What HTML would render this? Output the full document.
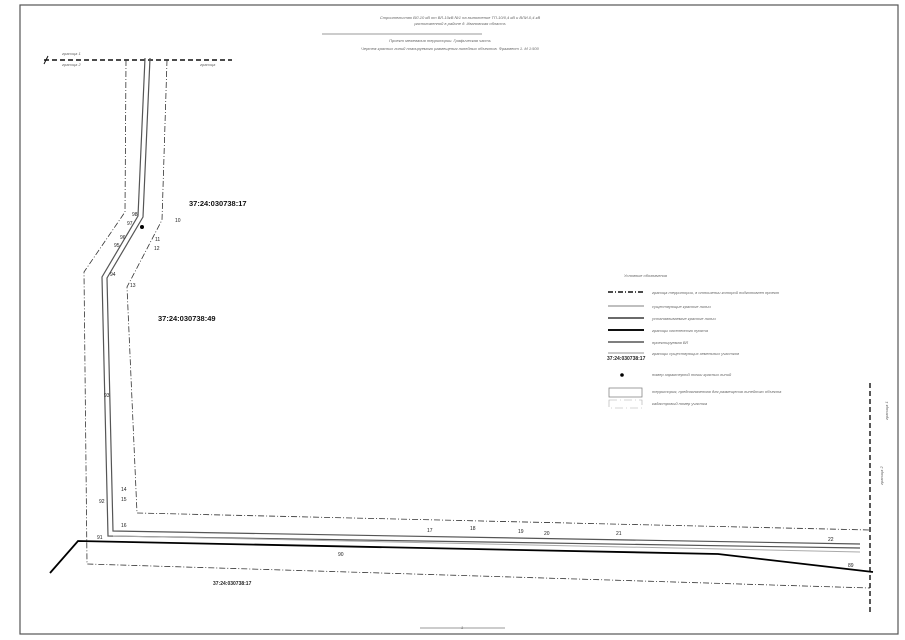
<!DOCTYPE html>
<html><head><meta charset="utf-8"><style>
html,body{margin:0;padding:0;background:#fff;}
svg{display:block;font-family:"Liberation Sans",sans-serif;}
.t{font-size:4px;fill:#666;font-style:italic}
.n{font-size:5px;fill:#222}
.c{font-size:7.5px;font-weight:bold;fill:#111}
</style></head><body>
<svg width="905" height="640" viewBox="0 0 905 640" xmlns="http://www.w3.org/2000/svg">
<rect x="0" y="0" width="905" height="640" fill="#fff"/>
<rect x="20" y="5" width="878" height="629" fill="none" stroke="#555" stroke-width="1.2"/>
<!-- title -->
<text class="t" x="460" y="19" text-anchor="middle">Строительство ВЛ-10 кВ от ВЛ-10кВ №1 на выполнение ТП-10/0,4 кВ и ВЛИ-0,4 кВ</text>
<text class="t" x="460" y="25" text-anchor="middle">расположенной в районе д. Ивановская область</text>
<line x1="322" y1="34" x2="482" y2="34" stroke="#999" stroke-width="1"/>
<text class="t" x="440" y="42" text-anchor="middle">Проект межевания территории. Графическая часть</text>
<text class="t" x="450" y="50" text-anchor="middle">Чертеж красных линий планируемого размещения линейных объектов. Фрагмент 1. М 1:500</text>
<!-- top dashed -->
<line x1="44" y1="60" x2="232" y2="60" stroke="#111" stroke-width="1.6" stroke-dasharray="5,3"/>
<line x1="44" y1="64" x2="48" y2="56" stroke="#111" stroke-width="1"/>
<text class="t" x="62" y="55">граница 1</text>
<text class="t" x="62" y="66">граница 2</text>
<text class="t" x="200" y="66">граница</text>
<!-- pipeline double lines -->
<polyline points="145,58 138,216 102,277 108,536 860,548" fill="none" stroke="#555" stroke-width="1.2"/>
<polyline points="150,58 143,217 107,278 113,531 860,544" fill="none" stroke="#555" stroke-width="1.2"/>
<polyline points="113,536 860,552" fill="none" stroke="#aaa" stroke-width="1"/>
<!-- dash-dot boundaries -->
<polyline points="126,60 125,212 84,272 87,564 870,588" fill="none" stroke="#333" stroke-width="0.8" stroke-dasharray="6,2,1,2"/>
<polyline points="167,60 162,220 127,287 137,513 870,530" fill="none" stroke="#333" stroke-width="0.8" stroke-dasharray="6,2,1,2"/>
<!-- right thick dashed -->
<line x1="870" y1="383" x2="870" y2="612" stroke="#111" stroke-width="1.4" stroke-dasharray="5,3"/>
<text class="t" x="878" y="430" transform="rotate(-90 878 420)">граница 1</text>
<text class="t" x="878" y="490" transform="rotate(-90 878 485)">граница 2</text>
<!-- thick black line -->
<polyline points="50,573 78,541 718,554 873,572" fill="none" stroke="#000" stroke-width="1.8"/>
<!-- labels -->
<text class="c" x="189" y="206">37:24:030738:17</text>
<text class="c" x="158" y="321">37:24:030738:49</text>
<text class="n" x="213" y="585" font-weight="bold">37:24:030738:17</text>
<circle cx="142" cy="227" r="2" fill="#000"/>
<g class="n">
<text x="132" y="216">98</text><text x="127" y="225">97</text><text x="120" y="239">96</text><text x="114" y="247">95</text>
<text x="175" y="222">10</text><text x="155" y="241">11</text><text x="154" y="250">12</text>
<text x="110" y="276">94</text><text x="130" y="287">13</text><text x="104" y="397">93</text>
<text x="121" y="491">14</text><text x="121" y="501">15</text><text x="99" y="503">92</text>
<text x="121" y="527">16</text><text x="97" y="539">91</text><text x="338" y="556">90</text>
<text x="427" y="532">17</text><text x="470" y="530">18</text><text x="518" y="533">19</text>
<text x="544" y="535">20</text><text x="616" y="535">21</text><text x="828" y="541">22</text><text x="848" y="567">89</text>
</g>
<!-- legend -->
<text class="t" x="624" y="277">Условные обозначения</text>
<line x1="608" y1="292" x2="644" y2="292" stroke="#111" stroke-width="1.5" stroke-dasharray="5,2,1,2"/>
<text class="t" x="652" y="294">граница территории, в отношении которой подготовлен проект</text>
<line x1="608" y1="306" x2="644" y2="306" stroke="#999" stroke-width="1.2"/>
<text class="t" x="652" y="308">существующие красные линии</text>
<line x1="608" y1="318" x2="644" y2="318" stroke="#111" stroke-width="1.2"/>
<text class="t" x="652" y="320">устанавливаемые красные линии</text>
<line x1="608" y1="330" x2="644" y2="330" stroke="#111" stroke-width="2"/>
<text class="t" x="652" y="332">границы населенного пункта</text>
<line x1="608" y1="342" x2="644" y2="342" stroke="#555" stroke-width="1.5"/>
<text class="t" x="652" y="344">проектируемая ВЛ</text>
<line x1="608" y1="353" x2="644" y2="353" stroke="#aaa" stroke-width="1.2"/>
<text class="t" x="652" y="355">границы существующих земельных участков</text>
<text class="n" x="607" y="360" font-weight="bold">37:24:030738:17</text>
<circle cx="622" cy="375" r="1.8" fill="#000"/>
<text class="t" x="652" y="376">номер характерной точки красных линий</text>
<rect x="609" y="388" width="33" height="9" fill="none" stroke="#888" stroke-width="0.8"/>
<text class="t" x="652" y="393">территория, предназначенная для размещения линейного объекта</text>
<rect x="609" y="400" width="33" height="8" fill="none" stroke="#aaa" stroke-width="0.6" stroke-dasharray="8,3,1,3"/>
<text class="t" x="652" y="405">кадастровый номер участка</text>
<!-- scale bar -->
<line x1="420" y1="628" x2="505" y2="628" stroke="#777" stroke-width="0.8"/>
<text class="t" x="461" y="629">1</text>
</svg>
</body></html>
